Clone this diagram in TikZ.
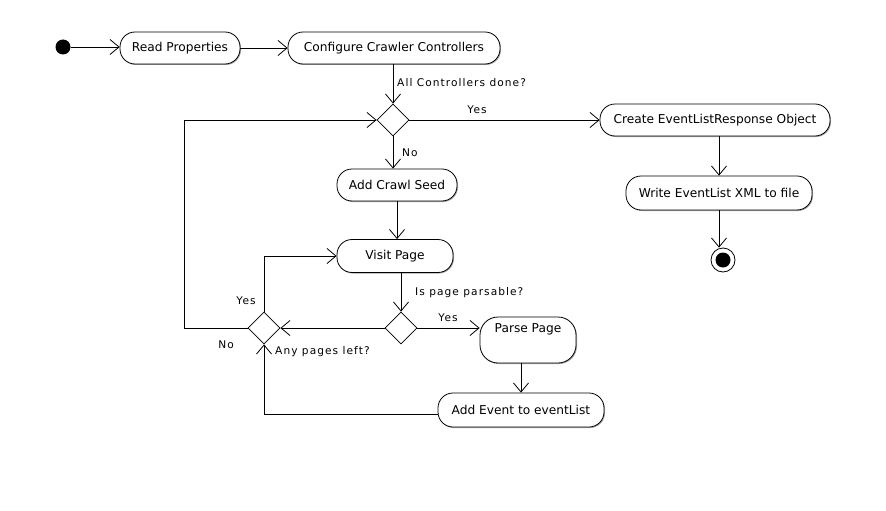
\documentclass[tikz,border=0pt]{standalone}
\usepackage{fontspec}
\setmainfont{DejaVu Sans}
\newfontfamily\lblfont[LetterSpace=10]{DejaVu Sans}
\usetikzlibrary{arrows.meta,shapes.geometric,shadows,calc}
\begin{document}
\begin{tikzpicture}[x=1pt,y=-1pt,
  font=\fontsize{12.2}{14}\selectfont,
  act/.style={draw, rounded corners=15pt, minimum height=32pt, inner sep=0pt,
    fill=white, line width=0.8pt,
    drop shadow={shadow xshift=1pt, shadow yshift=-1pt, opacity=0.35, fill=black}},
  dec/.style={draw, diamond, minimum width=32pt, minimum height=32pt, inner sep=0pt,
    fill=white, line width=0.8pt},
  startn/.style={circle, fill=black, minimum size=15pt, inner sep=0pt},
  endn/.style={circle, draw, line width=0.8pt, minimum size=24pt, inner sep=0pt,
    path picture={\fill (path picture bounding box.center) circle (7.5pt);}},
  arr/.style={-{Straight Barb[length=9pt,width=15pt]}, line width=0.8pt},
  lbl/.style={font=\lblfont\fontsize{10.6}{12}\selectfont, inner sep=0pt}
]
\useasboundingbox (0,0) rectangle (886,511);

% nodes
\node[startn] (s) at (63,47) {};
\node[act, minimum width=120pt] (rp) at (180,48) {Read Properties};
\node[act, minimum width=212pt] (cc) at (394,48) {Configure Crawler Controllers};
\node[dec] (d1) at (393,120) {};
\node[act, minimum width=230pt] (ce) at (715,120) {Create EventListResponse Object};
\node[act, minimum width=186pt, minimum height=34pt] (wx) at (719,193) {Write EventList XML to file};
\node[endn] (e) at (723,260) {};
\node[act, minimum width=120pt] (ac) at (397,185) {Add Crawl Seed};
\node[act, minimum width=116pt, minimum height=33pt] (vp) at (395,256) {Visit Page};
\node[dec] (d2) at (401,328) {};
\node[dec] (d3) at (264,328) {};
\node[act, minimum width=96pt, minimum height=46pt, rounded corners=18pt, text height=9pt, text depth=24pt] (pp) at (528,340) {Parse Page};
\node[act, minimum width=166pt, minimum height=34pt] (ae) at (521,410) {Add Event to eventList};
\coordinate (lp) at (184,328);

% connectors
\draw[arr] (s) -- (s -| rp.west);
\draw[arr] (rp) -- (cc);
\draw[arr] (cc.south -| d1.north) -- (d1.north);
\draw[arr] (d1.east) -- (ce.west |- d1.east);
\draw[arr] (d1.south) -- (d1.south |- ac.north);
\draw[arr] (ac.south) -- (ac.south |- vp.north);
\draw[arr] (vp.south -| d2.north) -- (d2.north);
\draw[arr] (d2.east) -- (pp.west |- d2.east);
\draw[arr] (d2.west) -- (d3.east);
\draw[arr] (pp.south -| ae.north) -- (ae.north);
\draw[arr] ([yshift=-4pt]ae.west) -| (d3.south);
\draw[arr] (d3.north) |- (vp.west);
\draw[arr] (d3.west) -- (lp) |- (d1.west);
\draw[arr] (ce.south -| wx.north) -- (wx.north);
\draw[arr] (wx.south) -- (wx.south |- e.north);

% labels
\node[lbl, anchor=west] (l1) at (397,83) {All Controllers done?};
\node[lbl] (l2) at (477,110) {Yes};
\node[lbl, anchor=west] (l3) at (402,153) {No};
\node[lbl, anchor=west] (l4) at (415,293) {Is page parsable?};
\node[lbl] (l5) at (448,318) {Yes};
\node[lbl] (l6) at (246,301) {Yes};
\node[lbl] (l7) at (226,345) {No};
\node[lbl, anchor=west] (l8) at (275,352) {Any pages left?};
\end{tikzpicture}
\end{document}
